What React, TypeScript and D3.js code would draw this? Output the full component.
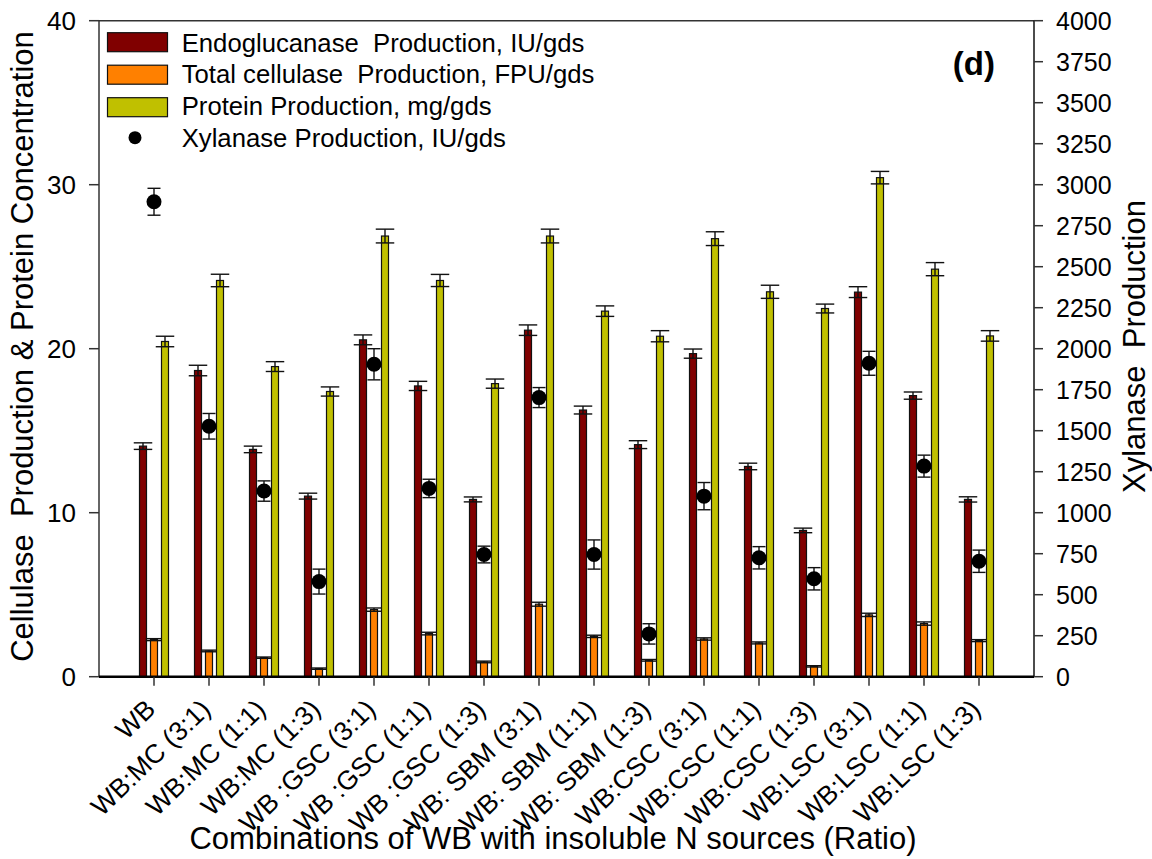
import React from "react";
import * as d3 from "d3";

const categories = [
  "WB", "WB:MC (3:1)", "WB:MC (1:1)", "WB:MC (1:3)",
  "WB :GSC (3:1)", "WB :GSC (1:1)", "WB :GSC (1:3)",
  "WB: SBM (3:1)", "WB: SBM (1:1)", "WB: SBM (1:3)",
  "WB:CSC (3:1)", "WB:CSC (1:1)", "WB:CSC (1:3)",
  "WB:LSC (3:1)", "WB:LSC (1:1)", "WB:LSC (1:3)",
];
const endo = [14.06, 18.67, 13.86, 11.01, 20.54, 17.73, 10.81, 21.13, 16.26, 14.15, 19.7, 12.82, 8.92, 23.45, 17.14, 10.81];
const endoErr = [0.2, 0.32, 0.2, 0.18, 0.3, 0.28, 0.15, 0.32, 0.24, 0.24, 0.28, 0.2, 0.14, 0.33, 0.22, 0.16];
const fpu = [2.26, 1.57, 1.16, 0.49, 4.09, 2.63, 0.9, 4.42, 2.46, 1.0, 2.3, 2.06, 0.63, 3.77, 3.24, 2.2];
const fpuErr = [0.06, 0.05, 0.04, 0.04, 0.1, 0.08, 0.05, 0.12, 0.07, 0.05, 0.07, 0.06, 0.04, 0.1, 0.1, 0.06];
const protein = [20.44, 24.16, 18.91, 17.39, 26.87, 24.16, 17.87, 26.87, 22.29, 20.76, 26.71, 23.47, 22.45, 30.43, 24.85, 20.78];
const proteinErr = [0.32, 0.38, 0.3, 0.28, 0.42, 0.37, 0.28, 0.42, 0.32, 0.34, 0.42, 0.4, 0.27, 0.38, 0.4, 0.32];
const xyl = [2896, 1527, 1132, 580, 1905, 1148, 745, 1702, 745, 261, 1101, 725, 597, 1911, 1284, 704];
const xylErr = [82, 78, 62, 76, 95, 56, 51, 61, 89, 62, 83, 68, 68, 73, 67, 68];

const leftTicks = [0, 10, 20, 30, 40];
const rightTicks = [0, 250, 500, 750, 1000, 1250, 1500, 1750, 2000, 2250, 2500, 2750, 3000, 3250, 3500, 3750, 4000];

const seriesNames = ["Endoglucanase  Production, IU/gds", "Total cellulase  Production, FPU/gds", "Protein Production, mg/gds"];
const seriesColors = ["#800000", "#FF8000", "#C0C000"];
const xylName = "Xylanase Production, IU/gds";

const FONT = "'Liberation Sans', Arial, Helvetica, sans-serif";

export default function App() {
  const W = 1152, H = 859;
  const left = 99, right = 1034, top = 20.7, bottom = 676.7;
  const x = d3.scaleLinear().domain([0, categories.length + 1]).range([left, right]);
  const yL = d3.scaleLinear().domain([0, 40]).range([bottom, top]);
  const yR = d3.scaleLinear().domain([0, 4000]).range([bottom, top]);
  const sub = d3.scalePoint<number>().domain([0, 1, 2]).range([-11, 11]);
  const barW = 7;
  const series = [
    { v: endo, e: endoErr, cap: 18.5 },
    { v: fpu, e: fpuErr, cap: 16.5 },
    { v: protein, e: proteinErr, cap: 18.5 },
  ];

  return (
    <svg width={W} height={H} style={{ position: "absolute", left: 0, top: 0, background: "#fff" }} fontFamily={FONT}>
      {series.map((s, si) =>
        s.v.map((v, i) => {
          const cx = x(i + 1) + (sub(si) as number);
          return (
            <g key={`b${si}-${i}`}>
              <rect x={cx - barW / 2} y={yL(v)} width={barW} height={yL(0) - yL(v)} fill={seriesColors[si]} stroke="#111" strokeWidth={1.2} />
              <line x1={cx} x2={cx} y1={yL(v + s.e[i])} y2={yL(v - s.e[i])} stroke="#111" strokeWidth={1.4} />
              <line x1={cx - s.cap / 2} x2={cx + s.cap / 2} y1={yL(v + s.e[i])} y2={yL(v + s.e[i])} stroke="#111" strokeWidth={1.4} />
              <line x1={cx - s.cap / 2} x2={cx + s.cap / 2} y1={yL(v - s.e[i])} y2={yL(v - s.e[i])} stroke="#111" strokeWidth={1.4} />
            </g>
          );
        })
      )}
      {xyl.map((v, i) => {
        const cx = x(i + 1);
        return (
          <g key={`x${i}`}>
            <line x1={cx} x2={cx} y1={yR(v + xylErr[i])} y2={yR(v - xylErr[i])} stroke="#111" strokeWidth={1.4} />
            <line x1={cx - 6.5} x2={cx + 6.5} y1={yR(v + xylErr[i])} y2={yR(v + xylErr[i])} stroke="#111" strokeWidth={1.4} />
            <line x1={cx - 6.5} x2={cx + 6.5} y1={yR(v - xylErr[i])} y2={yR(v - xylErr[i])} stroke="#111" strokeWidth={1.4} />
            <circle cx={cx} cy={yR(v)} r={7.5} fill="#000" />
          </g>
        );
      })}
      <line x1={left} x2={right} y1={top} y2={top} stroke="#333" strokeWidth={1.5} />
      <line x1={left} x2={left} y1={top} y2={bottom} stroke="#333" strokeWidth={1.5} />
      <line x1={right} x2={right} y1={top} y2={bottom} stroke="#111" strokeWidth={1.5} />
      <line x1={left} x2={right} y1={bottom} y2={bottom} stroke="#000" strokeWidth={2.5} />
      {leftTicks.map((t) => (
        <g key={`lt${t}`}>
          <line x1={left - 10} x2={left} y1={yL(t)} y2={yL(t)} stroke="#333" strokeWidth={1.5} />
          <text x={76} y={yL(t) + 9} textAnchor="end" fontSize={26} fill="#000">{t}</text>
        </g>
      ))}
      {rightTicks.map((t) => (
        <g key={`rt${t}`}>
          <line x1={right} x2={right + 9} y1={yR(t)} y2={yR(t)} stroke="#333" strokeWidth={1.5} />
          <text x={1056} y={yR(t) + 9} textAnchor="start" fontSize={25} fill="#000">{t}</text>
        </g>
      ))}
      {categories.map((c, i) => {
        const cx = x(i + 1);
        return (
          <g key={`xt${i}`}>
            <line x1={cx} x2={cx} y1={bottom} y2={bottom + 9} stroke="#333" strokeWidth={1.5} />
            <text transform={`translate(${cx + 3},${711}) rotate(-44)`} textAnchor="end" fontSize={26.5} fill="#000" style={{ whiteSpace: "pre" }}>{c}</text>
          </g>
        );
      })}
      <text transform={`translate(33,${346.5}) rotate(-90)`} textAnchor="middle" fontSize={31} fill="#000" style={{ whiteSpace: "pre" }}>Cellulase  Production &amp; Protein Concentration</text>
      <text transform={`translate(1145,${346.5}) rotate(-90)`} textAnchor="middle" fontSize={31} fill="#000" style={{ whiteSpace: "pre" }}>Xylanase  Production</text>
      <text x={553} y={849} textAnchor="middle" fontSize={31} fill="#000">Combinations of WB with insoluble N sources (Ratio)</text>
      {seriesNames.map((n, i) => (
        <g key={`lg${i}`}>
          <rect x={107.5} y={32.7 + i * 32.5} width={60} height={19} fill={seriesColors[i]} stroke="#111" strokeWidth={1.2} />
          <text x={181.7} y={51.7 + i * 31.7} fontSize={25.7} fill="#000" style={{ whiteSpace: "pre" }}>{n}</text>
        </g>
      ))}
      <circle cx={135} cy={137.7} r={6.5} fill="#000" />
      <text x={181.7} y={146.8} fontSize={25.7} fill="#000">{xylName}</text>
      <text x={995} y={75} textAnchor="end" fontSize={33} fontWeight="bold" fill="#000">(d)</text>
    </svg>
  );
}
